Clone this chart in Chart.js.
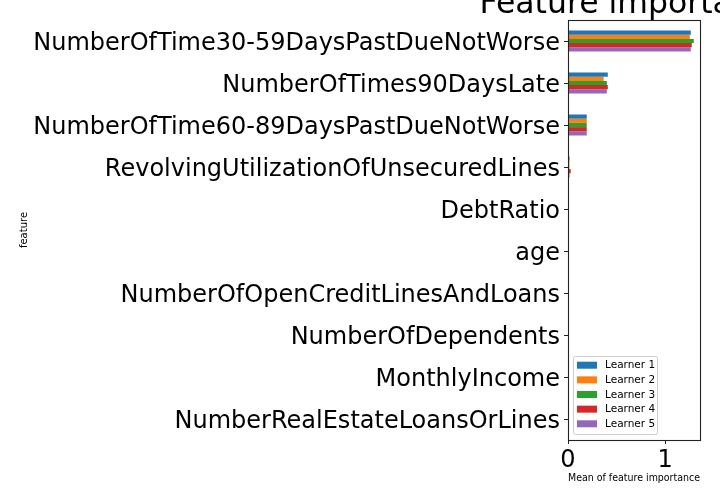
<!DOCTYPE html>
<html>
<head>
<meta charset="utf-8">
<script src="https://cdn.jsdelivr.net/npm/chart.js@4"></script>
<style>
html,body{margin:0;padding:0;background:#fff;}
#wrap{width:720px;height:504px;}
</style>
</head>
<body>
<div id="wrap"><canvas id="c" width="720" height="504"></canvas></div>
<script>
const features = [
  "NumberOfTime30-59DaysPastDueNotWorse",
  "NumberOfTimes90DaysLate",
  "NumberOfTime60-89DaysPastDueNotWorse",
  "RevolvingUtilizationOfUnsecuredLines",
  "DebtRatio",
  "age",
  "NumberOfOpenCreditLinesAndLoans",
  "NumberOfDependents",
  "MonthlyIncome",
  "NumberRealEstateLoansOrLines"
];
const learnerNames = ["Learner 1","Learner 2","Learner 3","Learner 4","Learner 5"];
const learner1 = [1.265, 0.410, 0.193, 0.016, 0.002, 0.001, 0.001, 0.001, 0.001, 0.001];
const learner2 = [1.255, 0.367, 0.193, 0.015, 0.002, 0.001, 0.001, 0.001, 0.001, 0.001];
const learner3 = [1.296, 0.400, 0.193, 0.014, 0.002, 0.001, 0.001, 0.001, 0.001, 0.001];
const learner4 = [1.275, 0.410, 0.193, 0.028, 0.002, 0.001, 0.001, 0.001, 0.001, 0.001];
const learner5 = [1.265, 0.400, 0.193, 0.016, 0.002, 0.001, 0.001, 0.001, 0.001, 0.001];
const xTicks = [0, 1];
const titleText = "Feature importance";
const xLabel = "Mean of feature importance";
const yLabel = "feature";
const colors = ["#1f77b4","#ff7f0e","#2ca02c","#d62728","#9467bd"];

const seriesValues = [learner1, learner2, learner3, learner4, learner5];
const FONT = "'DejaVu Sans', sans-serif";

const frameAndTitle = {
  id: 'frameAndTitle',
  afterDatasetsDraw(chart) {
    const {ctx, chartArea: a} = chart;
    ctx.save();
    ctx.strokeStyle = '#222';
    ctx.lineWidth = 1.1;
    ctx.strokeRect(Math.round(a.left) + 0.5, Math.round(a.top) + 0.5, Math.round(a.right - a.left), Math.round(a.bottom - a.top));
    // legend
    const lx = a.left + 5, ly = 356, lw = 84, lh = 78;
    ctx.fillStyle = 'rgba(255,255,255,0.8)';
    ctx.strokeStyle = '#cccccc';
    ctx.lineWidth = 1;
    ctx.beginPath();
    if (ctx.roundRect) ctx.roundRect(lx + 0.5, ly + 0.5, lw, lh, 2); else ctx.rect(lx + 0.5, ly + 0.5, lw, lh);
    ctx.fill(); ctx.stroke();
    ctx.font = "10.5px " + FONT;
    ctx.textBaseline = 'middle';
    chart.data.datasets.forEach((ds, i) => {
      const cy = ly + 9.2 + i * 14.65;
      ctx.fillStyle = ds.backgroundColor;
      ctx.fillRect(lx + 4, cy - 3.5, 20, 7);
      ctx.fillStyle = '#000';
      ctx.fillText(ds.label, lx + 32, cy + 0.5);
    });
    // title
    ctx.font = "31.5px " + FONT;
    ctx.fillStyle = '#000';
    ctx.textAlign = 'center';
    ctx.textBaseline = 'alphabetic';
    ctx.fillText(titleText, (a.left + a.right) / 2, 13);
    ctx.restore();
  }
};

new Chart(document.getElementById('c'), {
  type: 'bar',
  data: {
    labels: features,
    datasets: seriesValues.map((vals, i) => ({
      label: learnerNames[i],
      data: vals,
      backgroundColor: colors[i],
      borderWidth: 0,
      categoryPercentage: 0.5,
      barPercentage: 1.0
    }))
  },
  options: {
    indexAxis: 'y',
    responsive: false,
    animation: false,
    devicePixelRatio: 1,
    layout: { padding: { top: 20, right: 20, left: 0, bottom: 0 } },
    plugins: { legend: { display: false }, title: { display: false }, tooltip: { enabled: false } },
    scales: {
      x: {
        type: 'linear',
        min: 0,
        max: 1.36,
        afterBuildTicks(scale) { scale.ticks = xTicks.map(v => ({ value: v })); },
        afterFit(scale) { scale.height = 64; },
        grid: { display: true, drawOnChartArea: false, tickLength: 4, color: '#222', tickWidth: 1 },
        border: { display: true, color: '#222', width: 1 },
        ticks: { color: '#000', font: { family: FONT, size: 24 }, padding: 2, maxRotation: 0, callback: v => String(v) },
        title: { display: true, text: xLabel, color: '#000', font: { family: FONT, size: 10.5 }, padding: { top: 0, bottom: 19 } }
      },
      y: {
        afterFit(scale) { scale.width = 568; },
        grid: { display: true, drawOnChartArea: false, offset: false, tickLength: 4, color: '#222', tickWidth: 1 },
        border: { display: true, color: '#222', width: 1 },
        ticks: { color: '#000', font: { family: FONT, size: 24 }, padding: 4, autoSkip: false, labelOffset: 3 },
        title: { display: true, text: yLabel, color: '#000', font: { family: FONT, size: 10 }, padding: { top: 18, bottom: 0 } }
      }
    }
  },
  plugins: [frameAndTitle]
});
</script>
</body>
</html>
